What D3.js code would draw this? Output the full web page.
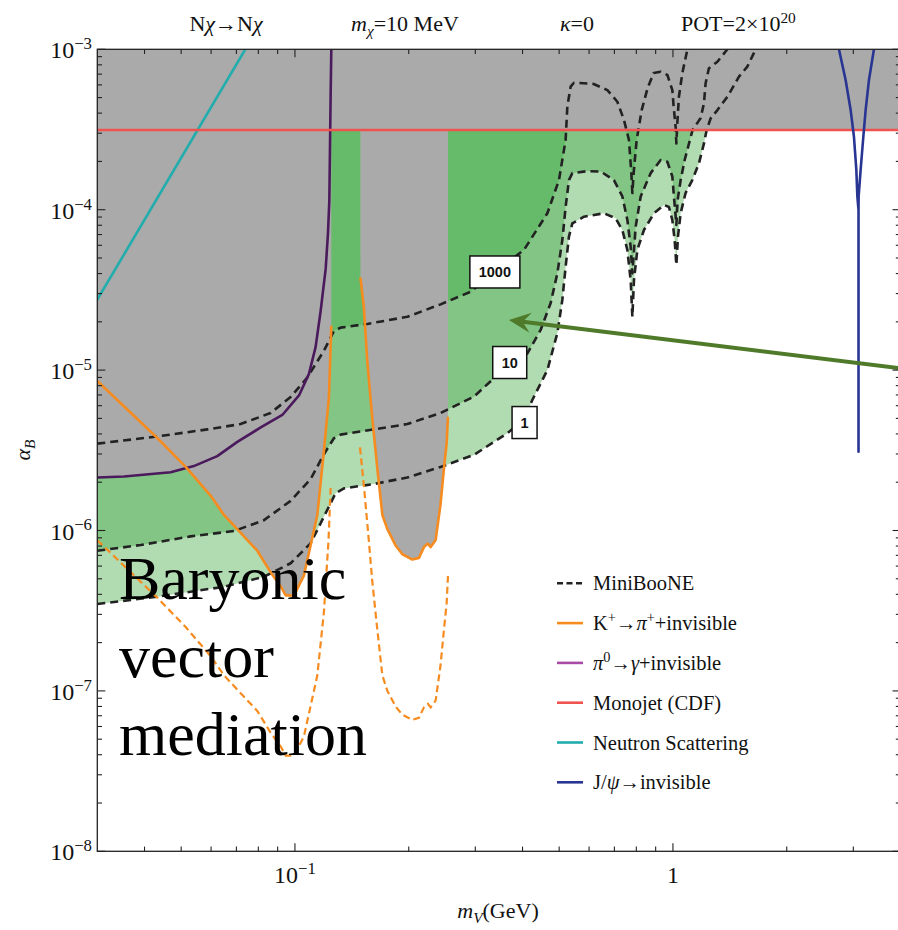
<!DOCTYPE html>
<html>
<head>
<meta charset="utf-8">
<script src="https://cdn.jsdelivr.net/npm/d3@7"></script>
<style>
  body { margin: 0; background: #fff; }
  svg { display: block; }
</style>
</head>
<body>
<svg id="chart" width="898" height="930"></svg>
<script>
// ---------------- data ----------------
// mediator mass m_V (GeV) vs coupling alpha_B
const monojetLevel = 3.14e-4;

const neutronScattering = [[0.03, 2.75e-5], [0.0739, 1e-3]];

const pi0Invisible = [
  [0.030, 2.14e-6], [0.0353, 2.17e-6], [0.0469, 2.31e-6], [0.0540, 2.52e-6],
  [0.0623, 2.91e-6], [0.0704, 3.57e-6], [0.0812, 4.39e-6], [0.0926, 5.25e-6],
  [0.1025, 6.95e-6], [0.1089, 9.47e-6], [0.1134, 1.39e-5], [0.1169, 2.32e-5],
  [0.1206, 4.29e-5], [0.1223, 7.17e-5], [0.1233, 1.14e-4], [0.1238, 2.46e-4],
  [0.1243, 5.29e-4], [0.1248, 1e-3]
];

const kaonLow = [
  [0.030, 8.55e-6], [0.0433, 3.76e-6], [0.0514, 2.49e-6], [0.0598, 1.65e-6],
  [0.0649, 1.25e-6], [0.0795, 7.48e-7], [0.0862, 5.50e-7], [0.0917, 4.48e-7],
  [0.0945, 3.94e-7], [0.0994, 3.94e-7], [0.1056, 5.23e-7], [0.1146, 1.25e-6],
  [0.1193, 3.14e-6], [0.1230, 6.79e-6], [0.1248, 1.89e-5]
];

const kaonHigh = [
  [0.1490, 3.78e-5], [0.1522, 2.44e-5], [0.1554, 1.13e-5], [0.1602, 4.98e-6],
  [0.1652, 2.43e-6], [0.1703, 1.25e-6], [0.1756, 1.02e-6], [0.1846, 8.07e-7],
  [0.1924, 7.11e-7], [0.2045, 6.59e-7], [0.2128, 6.75e-7], [0.2194, 7.88e-7],
  [0.2248, 8.29e-7], [0.2286, 7.88e-7], [0.2356, 8.72e-7], [0.2428, 1.46e-6],
  [0.2478, 2.43e-6], [0.2519, 3.48e-6], [0.2540, 5.12e-6]
];

const kaonProjLow = [
  [0.030, 8.7e-7], [0.0433, 3.8e-7], [0.0514, 2.5e-7], [0.0598, 1.65e-7],
  [0.0649, 1.25e-7], [0.0795, 7.5e-8], [0.0862, 5.5e-8], [0.0917, 4.5e-8],
  [0.0945, 3.95e-8], [0.0994, 3.95e-8], [0.1056, 5.2e-8], [0.1146, 1.25e-7],
  [0.1193, 3.1e-7], [0.1227, 8.7e-7], [0.1243, 1.84e-6]
];

const kaonProjHigh = [
  [0.1486, 3.3e-6], [0.1522, 1.9e-6], [0.1568, 8.7e-7], [0.1602, 4.8e-7],
  [0.1652, 2.4e-7], [0.1703, 1.25e-7], [0.1756, 1.0e-7], [0.1846, 8.0e-8],
  [0.1924, 7.1e-8], [0.2045, 6.6e-8], [0.2128, 6.8e-8], [0.2194, 7.9e-8],
  [0.2248, 8.3e-8], [0.2286, 7.9e-8], [0.2356, 8.7e-8], [0.2428, 1.45e-7],
  [0.2478, 2.4e-7], [0.2519, 3.5e-7], [0.2540, 5.2e-7]
];

const jpsiInvisible = [
  [2.749, 1e-3], [2.863, 6.43e-4], [2.952, 4.18e-4], [3.012, 2.85e-4],
  [3.056, 1.77e-4], [3.075, 1.21e-4], [3.097, 9.9e-5], [3.097, 3.1e-6],
  [3.097, 9.9e-5], [3.099, 1.21e-4], [3.137, 1.77e-4], [3.189, 2.85e-4],
  [3.234, 4.18e-4], [3.300, 6.43e-4], [3.402, 1e-3]
];

// MiniBooNE event contours
const events1000 = [
  [0.030, 3.48e-6], [0.0433, 3.86e-6], [0.0587, 4.27e-6], [0.0718, 4.61e-6],
  [0.0862, 5.40e-6], [0.0974, 6.80e-6], [0.1078, 8.99e-6], [0.1193, 1.32e-5],
  [0.1268, 1.75e-5], [0.1321, 1.84e-5], [0.1554, 1.94e-5], [0.1983, 2.15e-5],
  [0.2428, 2.57e-5], [0.2916, 3.08e-5], [0.3396, 4.11e-5], [0.4035, 5.61e-5],
  [0.4653, 9.50e-5], [0.4994, 1.53e-4], [0.5201, 2.72e-4], [0.5255, 4.39e-4],
  [0.5362, 5.85e-4], [0.5471, 6.19e-4], [0.6169, 6.08e-4], [0.6707, 5.57e-4],
  [0.7127, 4.71e-4], [0.7421, 3.62e-4], [0.7649, 2.72e-4], [0.7761, 1.69e-4],
  [0.7810, 1.27e-4], [0.7871, 1.69e-4], [0.8017, 2.72e-4], [0.8266, 4.18e-4],
  [0.8572, 5.74e-4], [0.8892, 7.12e-4], [0.9278, 7.25e-4], [0.9665, 6.92e-4],
  [0.9963, 5.57e-4], [1.0043, 4.39e-4], [1.0165, 3.29e-4], [1.021, 2.59e-4],
  [1.027, 3.47e-4], [1.037, 5.06e-4], [1.059, 7.12e-4], [1.092, 1e-3]
];

const events10 = [
  [0.030, 7.48e-7], [0.0391, 8.12e-7], [0.0530, 9.19e-7], [0.0690, 9.93e-7],
  [0.0828, 1.16e-6], [0.0974, 1.53e-6], [0.1100, 2.09e-6], [0.1193, 2.99e-6],
  [0.1268, 3.76e-6], [0.1321, 3.96e-6], [0.1618, 4.27e-6], [0.1983, 4.61e-6],
  [0.2428, 5.40e-6], [0.2975, 6.83e-6], [0.3675, 1.08e-5], [0.4120, 1.27e-5],
  [0.4467, 1.78e-5], [0.4748, 2.62e-5], [0.4945, 4.01e-5], [0.5098, 6.47e-5],
  [0.5201, 1.04e-4], [0.5307, 1.53e-4], [0.5418, 1.69e-4], [0.5935, 1.74e-4],
  [0.6437, 1.73e-4], [0.6980, 1.53e-4], [0.7348, 1.21e-4], [0.7575, 8.63e-5],
  [0.7729, 5.88e-5], [0.7810, 4.01e-5], [0.7968, 7.83e-5], [0.8216, 1.21e-4],
  [0.8730, 1.69e-4], [0.9278, 2.04e-4], [0.9665, 1.99e-4], [0.9963, 1.61e-4],
  [1.006, 1.21e-4], [1.021, 8.03e-5], [1.029, 1.15e-4], [1.048, 1.53e-4],
  [1.074, 2.04e-4], [1.100, 2.53e-4], [1.127, 3.14e-4], [1.184, 3.73e-4],
  [1.208, 4.61e-4], [1.220, 6.14e-4], [1.245, 7.61e-4], [1.311, 8.37e-4],
  [1.393, 1e-3]
];

const events1 = [
  [0.030, 3.48e-7], [0.0433, 3.87e-7], [0.0649, 4.46e-7], [0.0828, 5.15e-7],
  [0.0974, 6.25e-7], [0.1100, 8.32e-7], [0.1193, 1.22e-6], [0.1281, 1.71e-6],
  [0.1348, 1.83e-6], [0.1618, 1.95e-6], [0.1983, 2.14e-6], [0.2428, 2.49e-6],
  [0.2975, 2.96e-6], [0.3646, 4.04e-6], [0.4027, 4.88e-6], [0.4246, 6.51e-6],
  [0.4653, 1.00e-5], [0.4945, 1.70e-5], [0.5098, 2.74e-5], [0.5201, 4.41e-5],
  [0.5307, 6.79e-5], [0.5418, 8.22e-5], [0.5815, 9.04e-5], [0.6569, 9.50e-5],
  [0.7053, 8.84e-5], [0.7348, 7.47e-5], [0.7575, 5.61e-5], [0.7729, 3.64e-5],
  [0.7810, 2.15e-5], [0.7886, 3.64e-5], [0.8050, 5.61e-5], [0.8381, 7.47e-5],
  [0.8908, 9.50e-5], [0.9467, 1.07e-4], [0.9759, 1.04e-4], [0.9963, 8.63e-5],
  [1.0104, 6.47e-5], [1.021, 4.52e-5], [1.031, 6.79e-5], [1.048, 9.50e-5],
  [1.080, 1.27e-4], [1.125, 1.53e-4], [1.172, 1.95e-4], [1.208, 2.59e-4],
  [1.228, 3.14e-4], [1.258, 3.71e-4], [1.311, 4.18e-4], [1.393, 5.06e-4],
  [1.495, 6.75e-4], [1.573, 7.79e-4], [1.655, 1e-3]
];

const contourLabels = [
  { text: "1000", m: 0.338, a: 4.09e-5, w: 50 },
  { text: "10",   m: 0.370, a: 1.115e-5, w: 34 },
  { text: "1",    m: 0.405, a: 4.71e-6, w: 25 }
];

const arrowFrom = [3.95, 1.03e-5];
const arrowTo = [0.368, 2.05e-5];

const xMajorTicks = [0.1, 1];
const xMinorTicks = [0.04, 0.05, 0.06, 0.07, 0.08, 0.09, 0.2, 0.3, 0.4, 0.5, 0.6, 0.7, 0.8, 0.9, 2, 3];
const xTickLabels = [
  { v: 0.1, base: "10", exp: "\u22121" },
  { v: 1, base: "1", exp: "" }
];
const yDecades = [1e-8, 1e-7, 1e-6, 1e-5, 1e-4, 1e-3];
const yTickExponents = ["\u22128", "\u22127", "\u22126", "\u22125", "\u22124", "\u22123"];

const legendItems = [
  { segs: [{ t: "MiniBooNE" }], color: "#222", dash: true },
  { segs: [{ t: "K" }, { t: "+", sup: 1 }, { t: "\u2192" }, { t: "\u03c0", i: 1 }, { t: "+", sup: 1 }, { t: "+invisible" }], color: "#f68b1f" },
  { segs: [{ t: "\u03c0", i: 1 }, { t: "0", sup: 1 }, { t: "\u2192" }, { t: "\u03b3", i: 1 }, { t: "+invisible" }], color: "#a94aa6" },
  { segs: [{ t: "Monojet (CDF)" }], color: "#ef5350" },
  { segs: [{ t: "Neutron Scattering" }], color: "#22adad" },
  { segs: [{ t: "J/" }, { t: "\u03c8", i: 1 }, { t: "\u2192invisible" }], color: "#283593" }
];

const headerItems = [
  { x: 226, anchor: "middle", segs: [{ t: "N" }, { t: "\u03c7", i: 1 }, { t: "\u2192N" }, { t: "\u03c7", i: 1 }] },
  { x: 351, anchor: "start", segs: [{ t: "m", i: 1 }, { t: "\u03c7", i: 1, sub: 1 }, { t: "=10 MeV" }] },
  { x: 560, anchor: "start", segs: [{ t: "\u03ba", i: 1 }, { t: "=0" }] },
  { x: 681, anchor: "start", segs: [{ t: "POT=2\u00d710" }, { t: "20", sup: 1 }] }
];

const bigText = ["Baryonic", "vector", "mediation"];

// ---------------- layout ----------------
const SERIF = "'Liberation Serif', 'Times New Roman', serif";
const padLeft = 97.3, padTop = 49.3, padBottom = 851.3, pxPerDecade = 378;
const padRight = padLeft + Math.log10(4 / 0.03) * pxPerDecade;

const x = d3.scaleLog().domain([0.03, 4]).range([padLeft, padRight]);
const y = d3.scaleLog().domain([1e-8, 1e-3]).range([padBottom, padTop]);

const svg = d3.select("#chart");
svg.append("rect").attr("width", 898).attr("height", 930).attr("fill", "#fff");

svg.append("clipPath").attr("id", "plot-clip")
  .append("rect").attr("x", padLeft).attr("y", padTop)
  .attr("width", padRight - padLeft).attr("height", padBottom - padTop);

const plot = svg.append("g").attr("clip-path", "url(#plot-clip)");

const line = d3.line().x(d => x(d[0])).y(d => y(d[1]));

// region above a curve, closed along the upper edge
function aboveArea(series) {
  const pts = series.slice();
  pts.push([series[series.length - 1][0], 1e-3]);
  pts.push([series[0][0], 1e-3]);
  return line(pts) + "Z";
}

// green event regions
plot.append("path").attr("d", aboveArea(events1)).attr("fill", "#b1dbb0");
plot.append("path").attr("d", aboveArea(events10)).attr("fill", "#83c585");
plot.append("path").attr("d", aboveArea(events1000)).attr("fill", "#66bb6a");

// excluded region
const GRAY = "#aaaaaa";
plot.append("rect").attr("x", padLeft).attr("y", padTop)
  .attr("width", padRight - padLeft).attr("height", y(monojetLevel) - padTop).attr("fill", GRAY);
plot.append("path").attr("d", aboveArea(pi0Invisible)).attr("fill", GRAY);
plot.append("path").attr("d", aboveArea(kaonLow)).attr("fill", GRAY);
plot.append("path").attr("d", aboveArea(kaonHigh)).attr("fill", GRAY);

// MiniBooNE contours
[events1, events10, events1000].forEach(s => {
  plot.append("path").attr("d", line(s)).attr("fill", "none")
    .attr("stroke", "#222").attr("stroke-width", 2.6)
    .attr("stroke-dasharray", "8,5").attr("stroke-linejoin", "round");
});

// projected kaon sensitivity
[kaonProjLow, kaonProjHigh].forEach(s => {
  plot.append("path").attr("d", line(s)).attr("fill", "none")
    .attr("stroke", "#f68b1f").attr("stroke-width", 2.2)
    .attr("stroke-dasharray", "7,4");
});

// constraint curves
function solid(series, color, w) {
  plot.append("path").attr("d", line(series)).attr("fill", "none")
    .attr("stroke", color).attr("stroke-width", w).attr("stroke-linejoin", "round");
}
solid(neutronScattering, "#22adad", 2.6);
solid(pi0Invisible, "#4a1a5c", 2.6);
solid(kaonLow, "#f68b1f", 2.6);
solid(kaonHigh, "#f68b1f", 2.6);
solid([[0.03, monojetLevel], [4, monojetLevel]], "#ef5350", 2.6);
solid(jpsiInvisible, "#283593", 2.6);

// arrow
{
  const x1 = x(arrowFrom[0]), y1 = y(arrowFrom[1]);
  const x2 = x(arrowTo[0]), y2 = y(arrowTo[1]);
  const ang = Math.atan2(y2 - y1, x2 - x1);
  const ux = Math.cos(ang), uy = Math.sin(ang);
  const head = 22, half = 10, notch = 14;
  plot.append("line")
    .attr("x1", x1).attr("y1", y1)
    .attr("x2", x2 - ux * notch).attr("y2", y2 - uy * notch)
    .attr("stroke", "#4f7a2a").attr("stroke-width", 4);
  const bx = x2 - ux * head, by = y2 - uy * head;
  const nx = x2 - ux * notch, ny = y2 - uy * notch;
  plot.append("path")
    .attr("d", `M${x2},${y2}L${bx - uy * half},${by + ux * half}L${nx},${ny}L${bx + uy * half},${by - ux * half}Z`)
    .attr("fill", "#4f7a2a");
}

// contour labels
contourLabels.forEach(l => {
  const cx = x(l.m), cy = y(l.a);
  const g = svg.append("g");
  g.append("rect").attr("x", cx - l.w / 2).attr("y", cy - 16)
    .attr("width", l.w).attr("height", 32)
    .attr("fill", "#fff").attr("stroke", "#111").attr("stroke-width", 1.5);
  g.append("text").attr("x", cx).attr("y", cy + 5)
    .attr("text-anchor", "middle")
    .attr("font-family", "'Liberation Sans', Arial, sans-serif")
    .attr("font-weight", "bold").attr("font-size", 14.5)
    .attr("fill", "#111").text(l.text);
});

// rich text helper
function richText(sel, segs, size) {
  let shift = 0;
  segs.forEach(s => {
    const ts = sel.append("tspan").text(s.t);
    const target = s.sup ? -size * 0.38 : (s.sub ? size * 0.22 : 0);
    if (target - shift !== 0) ts.attr("dy", target - shift);
    shift = target;
    if (s.sup || s.sub) ts.attr("font-size", size * 0.7);
    if (s.i) ts.attr("font-style", "italic");
  });
}

// big annotation
bigText.forEach((t, i) => {
  svg.append("text").attr("x", 119).attr("y", 599 + i * 78)
    .attr("font-family", SERIF).attr("font-size", 62).attr("fill", "#000")
    .text(t);
});

// legend
legendItems.forEach((it, i) => {
  const ly = 583.3 + i * 39.8;
  svg.append("line").attr("x1", 557).attr("x2", 583).attr("y1", ly).attr("y2", ly)
    .attr("stroke", it.color).attr("stroke-width", 2.6)
    .attr("stroke-dasharray", it.dash ? "6,3.5" : null);
  const t = svg.append("text").attr("x", 593).attr("y", ly + 7)
    .attr("font-family", SERIF).attr("font-size", 20.5).attr("fill", "#111");
  richText(t, it.segs, 20.5);
});

// header
headerItems.forEach(h => {
  const t = svg.append("text").attr("x", h.x).attr("y", 31)
    .attr("text-anchor", h.anchor)
    .attr("font-family", SERIF).attr("font-size", 22).attr("fill", "#111");
  richText(t, h.segs, 22);
});

// frame and ticks
const axisColor = "#222";
svg.append("rect").attr("x", padLeft).attr("y", padTop)
  .attr("width", padRight - padLeft).attr("height", padBottom - padTop)
  .attr("fill", "none").attr("stroke", axisColor).attr("stroke-width", 1.3);

const ticks = svg.append("g").attr("stroke", axisColor).attr("stroke-width", 1.1);
function xTick(v, len) {
  ticks.append("line").attr("x1", x(v)).attr("x2", x(v)).attr("y1", padBottom).attr("y2", padBottom - len);
  ticks.append("line").attr("x1", x(v)).attr("x2", x(v)).attr("y1", padTop).attr("y2", padTop + len);
}
function yTick(v, len) {
  ticks.append("line").attr("y1", y(v)).attr("y2", y(v)).attr("x1", padLeft).attr("x2", padLeft + len);
  ticks.append("line").attr("y1", y(v)).attr("y2", y(v)).attr("x1", padRight).attr("x2", padRight - len);
}
xMajorTicks.forEach(v => xTick(v, 8));
xMinorTicks.forEach(v => xTick(v, 4.7));
yDecades.forEach((d, i) => {
  yTick(d, 8);
  if (i < yDecades.length - 1) {
    for (let k = 2; k <= 9; k++) yTick(d * k, 4.7);
  }
});

xTickLabels.forEach(l => {
  const t = svg.append("text").attr("x", x(l.v)).attr("y", 883)
    .attr("text-anchor", "middle")
    .attr("font-family", SERIF).attr("font-size", 24).attr("fill", "#111");
  const segs = [{ t: l.base }];
  if (l.exp) segs.push({ t: l.exp, sup: 1 });
  richText(t, segs, 24);
});

yDecades.forEach((d, i) => {
  const t = svg.append("text").attr("x", 92).attr("y", y(d) + 9)
    .attr("text-anchor", "end")
    .attr("font-family", SERIF).attr("font-size", 24).attr("fill", "#111");
  richText(t, [{ t: "10" }, { t: yTickExponents[i], sup: 1 }], 24);
});

// axis titles
{
  const t = svg.append("text").attr("x", 498).attr("y", 918)
    .attr("text-anchor", "middle")
    .attr("font-family", SERIF).attr("font-size", 22).attr("fill", "#111");
  richText(t, [{ t: "m", i: 1 }, { t: "V", i: 1, sub: 1 }, { t: "(GeV)" }], 22);
}
{
  const t = svg.append("text")
    .attr("transform", "translate(30,450) rotate(-90)")
    .attr("text-anchor", "middle")
    .attr("font-family", SERIF).attr("font-size", 22).attr("fill", "#111");
  richText(t, [{ t: "\u03b1", i: 1 }, { t: "B", i: 1, sub: 1 }], 22);
}
</script>
</body>
</html>
